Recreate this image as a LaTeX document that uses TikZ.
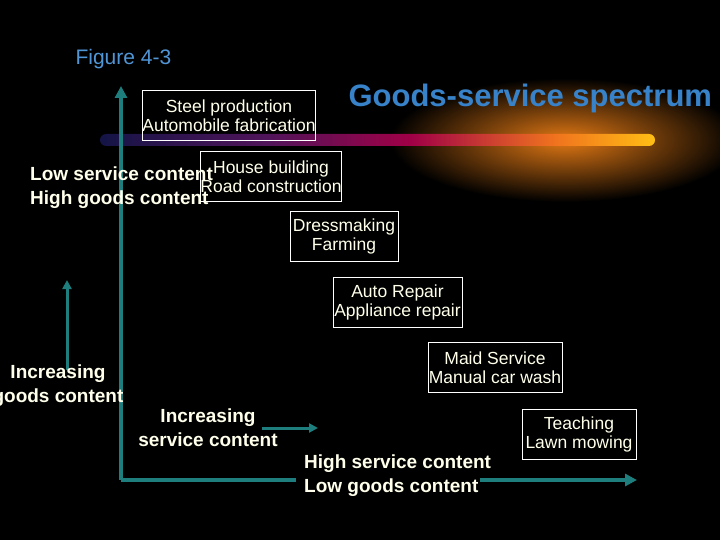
\documentclass[tikz,border=0pt]{standalone}
\usepackage{fontspec}
\setmainfont{Liberation Sans}
\usetikzlibrary{arrows.meta}
\definecolor{teal1}{RGB}{30,125,125}
\definecolor{cream}{RGB}{255,255,235}
\definecolor{figblue}{RGB}{80,150,215}
\definecolor{titleblue}{RGB}{55,130,200}
\definecolor{glow}{RGB}{225,120,20}
\definecolor{sA}{RGB}{20,20,70}
\definecolor{sB}{RGB}{80,20,90}
\definecolor{sC}{RGB}{160,0,70}
\definecolor{sD}{RGB}{240,115,30}
\definecolor{sE}{RGB}{255,190,20}
\pgfdeclarehorizontalshading{barshade}{100bp}{
 color(0bp)=(sA); color(25bp)=(sA); color(40bp)=(sB); color(53bp)=(sC);
 color(66bp)=(sD); color(75bp)=(sE); color(100bp)=(sE)}
\begin{document}
\begin{tikzpicture}[x=1pt,y=-1pt,
  box/.style={draw=white,line width=0.6pt,text=cream,font=\fontsize{17.5}{21}\selectfont,align=center,inner sep=0pt,minimum height=50pt},
  lab/.style={text=cream,font=\bfseries\fontsize{19}{24}\selectfont,inner sep=0pt},
  ax/.style={teal1,line width=4pt,-{Triangle[length=12pt,width=12pt]}}]
\fill[black] (0,0) rectangle (720,540);
\useasboundingbox (0,0) rectangle (720,540);
% glow
\begin{scope}
\clip (380,60) rectangle (720,220);
\fill[inner color=glow,outer color=black] (565,140) ellipse [x radius=175, y radius=62];
\end{scope}
% bar
\shade[shading=barshade,rounded corners=6pt] (100,134) rectangle (655,146);
\node[text=figblue,font=\fontsize{21}{24}\selectfont,anchor=west] (fig) at (72,59) {Figure 4-3};
\node[text=titleblue,font=\bfseries\fontsize{31}{32}\selectfont,anchor=west] (title) at (345,98) {Goods-service spectrum};
% axes
\coordinate (o) at (121,480);
\coordinate (top) at (121,86);
\coordinate (h1) at (296,480);
\coordinate (h2) at (480,480);
\coordinate (hend) at (637,480);
\draw[ax] (o) -- (top);
\draw[teal1,line width=4pt] (top|-o) -- (h1);
\draw[ax] (h2) -- (hend);
% small arrows
\coordinate (sa1) at (67,370); \coordinate (sa2) at (67,280);
\draw[teal1,line width=3pt,-{Triangle[length=9pt,width=9pt]}] (sa1) -- (sa2);
\coordinate (sb1) at (262,428); \coordinate (sb2) at (318,428);
\draw[teal1,line width=3pt,-{Triangle[length=9pt,width=9pt]}] (sb1) -- (sb2);
% boxes
\node[box,minimum width=172pt] (b1) at (229,115.5) {Steel production\\[-2pt]Automobile fabrication};
\node[box,minimum width=132pt] (b2) at (271,176.5) {House building\\[-2pt]Road construction};
\node[box,minimum width=108pt] (b3) at (344,236) {Dressmaking\\[-2pt]Farming};
\node[box,minimum width=129pt] (b4) at (397.5,302) {Auto Repair\\[-2pt]Appliance repair};
\node[box,minimum width=134pt] (b5) at (495,367.5) {Maid Service\\[-2pt]Manual car wash};
\node[box,minimum width=114pt] (b6) at (579,434) {Teaching\\[-2pt]Lawn mowing};
% labels
\node[lab,anchor=west,align=left] (lsc) at (30,188) {Low service content\\High goods content};
\node[lab,align=center] (igc) at (58,386) {Increasing\\goods content};
\node[lab,align=center] (isc) at (208,428) {Increasing\\service content};
\node[lab,anchor=west,align=left] (hsc) at (304,476) {High service content\\Low goods content};
\end{tikzpicture}
\end{document}
